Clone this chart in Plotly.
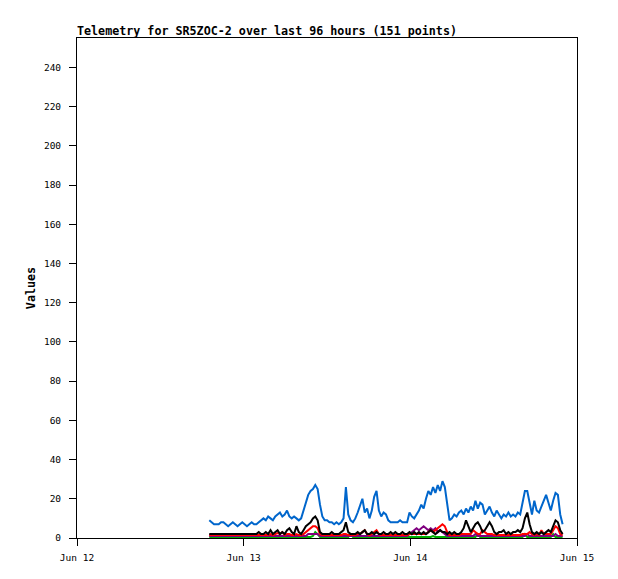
import pandas as pd
import plotly.graph_objects as go

title_text = "Telemetry for SR5ZOC-2 over last 96 hours (151 points)"
start_time = "2024-06-12 19:03"
step = "1221s"
n_points = 151
times = pd.date_range(start=start_time, periods=n_points, freq=step)

blue = [9, 8, 7, 7, 7, 8, 8, 7, 6, 7,
        8, 7, 6, 7, 8, 7, 6, 7, 8, 7,
        7, 8, 9, 10, 9, 11, 10, 9, 11, 12,
        13, 11, 12, 14, 11, 10, 11, 10, 9, 10,
        14, 19, 22, 24, 25, 27, 25, 17, 11, 9,
        9, 8, 8, 7, 8, 7, 8, 10, 26, 12,
        9, 8, 10, 13, 16, 20, 13, 15, 10, 14,
        21, 24, 14, 11, 13, 12, 9, 8, 8, 8,
        8, 9, 8, 8, 8, 13, 11, 10, 12, 14,
        17, 15, 20, 24, 22, 26, 23, 27, 24, 29,
        26, 18, 9, 10, 12, 11, 13, 14, 12, 15,
        13, 16, 14, 19, 15, 18, 17, 12, 14, 16,
        13, 11, 14, 12, 10, 12, 11, 13, 11, 12,
        11, 13, 12, 18, 24, 24, 17, 12, 19, 14,
        13, 16, 19, 22, 18, 14, 19, 23, 22, 12,
        7]

black = [2, 2, 2, 2, 2, 2, 2, 2, 2, 2,
         2, 2, 2, 2, 2, 2, 2, 2, 2, 2,
         2, 3, 2, 2, 3, 2, 4, 2, 3, 4,
         2, 3, 2, 4, 5, 3, 2, 6, 3, 2,
         4, 6, 7, 8, 10, 11, 9, 3, 2, 2,
         2, 2, 3, 2, 2, 2, 3, 4, 8, 3,
         2, 2, 2, 3, 2, 3, 4, 2, 2, 3,
         2, 3, 2, 2, 3, 2, 2, 3, 2, 3,
         2, 2, 3, 2, 2, 3, 2, 3, 2, 3,
         2, 3, 2, 3, 4, 3, 2, 3, 4, 3,
         3, 2, 3, 2, 3, 2, 2, 3, 5, 9,
         6, 3, 5, 7, 8, 6, 3, 4, 6, 8,
         6, 3, 2, 3, 3, 4, 2, 3, 2, 3,
         3, 4, 3, 5, 10, 13, 7, 3, 2, 3,
         2, 3, 2, 3, 4, 3, 6, 9, 8, 4,
         2]

red = [1.5, 1.5, 1.5, 1.5, 1.5, 1.5, 1.5, 1.5, 1.5, 1.5,
       1.5, 1.5, 1.5, 1.5, 1.5, 1.5, 1.5, 1.5, 1.5, 1.5,
       1.5, 1.5, 1.5, 1.5, 1.5, 1.5, 2, 1.5, 2, 2.5,
       2, 3, 1.5, 2, 2, 1.5, 1.5, 2, 1.5, 1.5,
       2, 3, 4, 5, 6, 6, 5, 2, 1.5, 1.5,
       1.5, 1.5, 1.5, 1.5, 1.5, 1.5, 1.5, 2, 2, 1.5,
       1.5, 1.5, 1.5, 2, 2, 3, 4, 2, 1.5, 2,
       3, 4, 2, 1.5, 1.5, 1.5, 1.5, 1.5, 1.5, 1.5,
       1.5, 1.5, 1.5, 1.5, 1.5, 2, 2, 2, 2, 2,
       2, 2, 2, 3, 4, 3, 4, 5, 6, 7,
       6, 3, 1.5, 1.5, 1.5, 1.5, 1.5, 2, 2, 2,
       2, 2, 4, 3, 2, 2, 4, 3, 2, 2,
       2, 1.5, 1.5, 1.5, 1.5, 1.5, 1.5, 1.5, 1.5, 1.5,
       1.5, 1.5, 1.5, 2, 2, 2, 3, 2, 1.5, 2,
       1.5, 4, 2, 2, 2, 2, 4, 6, 5, 2,
       1.5]

purple = [1, 1, 1, 1, 1, 1, 1, 1, 1, 1,
          1, 1, 1, 1, 1, 1, 1, 1, 1, 1,
          1, 1, 1, 1, 1, 1, 1, 1, 1, 1,
          1, 1, 1, 1, 1, 1, 1, 1, 1, 1,
          1, 1, 2, 2, 2, 2, 2, 1, 1, 1,
          1, 1, 1, 1, 1, 1, 1, 1, 1, 1,
          1, 1, 1, 1, 1, 1, 1, 1, 1, 1,
          1, 1, 1, 1, 1, 1, 1, 1, 1, 1,
          1, 1, 1, 1, 1, 2, 3, 4, 5, 4,
          5, 6, 5, 4, 5, 4, 5, 3, 4, 3,
          2, 1, 1, 1, 1, 1, 1, 1, 1, 1,
          1, 1, 1, 2, 1, 1, 1, 1, 1, 1,
          1, 1, 1, 1, 1, 1, 1, 1, 1, 1,
          1, 1, 1, 1, 1, 2, 1, 1, 1, 1,
          1, 1, 1, 1, 1, 1, 1, 2, 1, 1,
          1]

green = [0.5, 0.5, 0.5, 0.5, 0.5, 0.5, 0.5, 0.5, 0.5, 0.5,
         0.5, 0.5, 0.5, 0.5, 0.5, 0.5, 0.5, 0.5, 0.5, 0.5,
         0.5, 0.5, 0.5, 0.5, 0.5, 0.5, 0.5, 0.5, 0.5, 0.5,
         0.5, 0.5, 0.5, 0.5, 0.5, 0.5, 0.5, 0.5, 0.5, 0.5,
         0.5, 0.5, 0.5, 0.5, 1, 3, 2, 0.5, 0.5, 0.5,
         0.5, 0.5, 0.5, 0.5, 0.5, 0.5, 0.5, 0.5, 0.5, 0.5,
         2, 0.5, 0.5, 0.5, 0.5, 0.5, 0.5, 0.5, 0.5, 0.5,
         0.5, 0.5, 0.5, 0.5, 0.5, 0.5, 0.5, 0.5, 0.5, 0.5,
         0.5, 0.5, 0.5, 0.5, 0.5, 0.5, 0.5, 0.5, 0.5, 0.5,
         0.5, 0.5, 0.5, 0.5, 0.5, 1, 0.5, 0.5, 0.5, 0.5,
         0.5, 0.5, 0.5, 0.5, 0.5, 0.5, 0.5, 0.5, 0.5, 0.5,
         0.5, 0.5, 0.5, 0.5, 2, 0.5, 0.5, 0.5, 0.5, 0.5,
         0.5, 0.5, 0.5, 0.5, 0.5, 0.5, 0.5, 0.5, 0.5, 0.5,
         0.5, 0.5, 0.5, 0.5, 2, 0.5, 0.5, 0.5, 0.5, 0.5,
         0.5, 0.5, 0.5, 0.5, 0.5, 0.5, 2, 0.5, 0.5, 0.5,
         0.5]

series = [
    ("blue", blue, "#0066cc"),
    ("green", green, "#00b000"),
    ("purple", purple, "#800080"),
    ("red", red, "#ff0000"),
    ("black", black, "#000000"),
]

x_ticks = ["2024-06-12", "2024-06-13", "2024-06-14", "2024-06-15"]
x_ticklabels = ["Jun 12", "Jun 13", "Jun 14", "Jun 15"]
y_ticks = list(range(0, 241, 20))

fig = go.Figure()
for name, vals, color in series:
    fig.add_trace(go.Scatter(x=times, y=vals, mode="lines", name=name,
                             line=dict(color=color, width=2)))

mono = "DejaVu Sans Mono"
# page body has an 8px default margin, so the figure is sized/placed to compensate
fig.update_layout(
    width=610, height=571,
    margin=dict(l=69, r=41, t=30, b=41),
    paper_bgcolor="white", plot_bgcolor="white",
    showlegend=False,
    title=dict(text="<b>" + title_text + "</b>", x=69/610, xref="container",
               xanchor="left", y=1 - 23/571, yref="container", yanchor="middle",
               font=dict(family=mono, size=11.7, color="black")),
    xaxis=dict(range=["2024-06-12", "2024-06-15"], tickvals=x_ticks,
               ticktext=x_ticklabels, ticks="outside", ticklen=7,
               tickcolor="black", showline=True, linecolor="black", linewidth=1,
               mirror=True, showgrid=False, zeroline=False, ticklabelstandoff=4,
               tickfont=dict(family=mono, size=9.5, color="black")),
    yaxis=dict(range=[0, 255], tickvals=y_ticks, ticks="outside", ticklen=7,
               tickcolor="black", showline=True, linecolor="black", linewidth=1,
               mirror=True, showgrid=False, zeroline=False, ticklabelstandoff=6,
               tickfont=dict(family=mono, size=9.5, color="black"),
               title=dict(text="<b>Values</b>", standoff=5,
                          font=dict(family=mono, size=11.7, color="black"))),
)

fig.write_html("out.html")
